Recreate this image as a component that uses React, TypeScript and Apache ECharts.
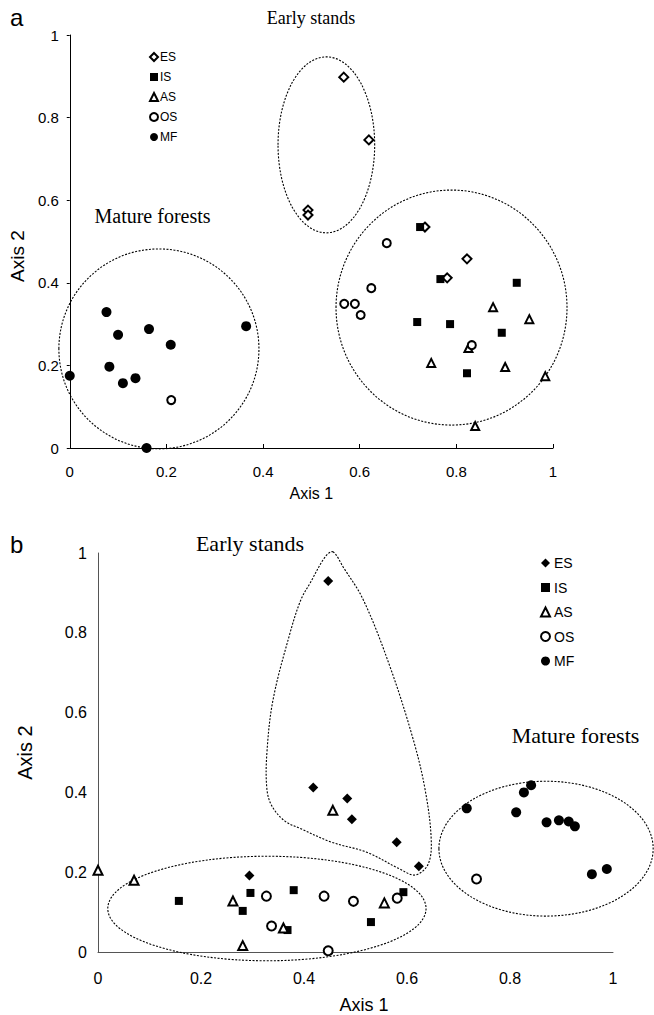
import React, { useEffect, useRef } from "react";
import * as echarts from "echarts";

// ---------- Data (panel a) ----------
const TICKS = [0, 0.2, 0.4, 0.6, 0.8, 1];
const ES_A = [[0.493, 0.576], [0.493, 0.564], [0.567, 0.898], [0.619, 0.746], [0.735, 0.535], [0.822, 0.458], [0.781, 0.412]];
const IS_A = [[0.725, 0.535], [0.767, 0.409], [0.925, 0.4], [0.719, 0.305], [0.787, 0.3], [0.894, 0.279], [0.822, 0.181]];
const AS_A = [[0.876, 0.341], [0.951, 0.312], [0.825, 0.242], [0.748, 0.206], [0.901, 0.196], [0.984, 0.174], [0.839, 0.053]];
const OS_A = [[0.656, 0.496], [0.624, 0.387], [0.568, 0.349], [0.59, 0.349], [0.602, 0.322], [0.832, 0.249], [0.21, 0.116]];
const MF_A = [[0.076, 0.329], [0.1, 0.274], [0.164, 0.288], [0.209, 0.25], [0.365, 0.295], [0.082, 0.197], [0.11, 0.157], [0.136, 0.169], [0, 0.175], [0.159, 0]];

// ---------- Data (panel b) ----------
const ES_B = [[0.447, 0.93], [0.418, 0.412], [0.484, 0.385], [0.493, 0.333], [0.58, 0.275], [0.623, 0.215], [0.294, 0.192]];
const IS_B = [[0.157, 0.128], [0.296, 0.148], [0.281, 0.103], [0.38, 0.155], [0.368, 0.055], [0.53, 0.075], [0.593, 0.15]];
const AS_B = [[0.456, 0.355], [0.556, 0.123], [0, 0.205], [0.07, 0.18], [0.262, 0.128], [0.36, 0.06], [0.281, 0.016]];
const OS_B = [[0.327, 0.14], [0.337, 0.065], [0.439, 0.14], [0.496, 0.127], [0.581, 0.135], [0.447, 0.003], [0.735, 0.183]];
const MF_B = [[0.716, 0.36], [0.827, 0.4], [0.841, 0.418], [0.812, 0.35], [0.871, 0.325], [0.895, 0.33], [0.914, 0.327], [0.926, 0.315], [0.959, 0.195], [0.988, 0.208]];

const GROUPS = ["ES", "IS", "AS", "OS", "MF"];

// Group outlines in data units: [cx, cy, rx, ry]
const OUTLINES_A = [[0.531, 0.734, 0.1, 0.213], [0.79, 0.34, 0.239, 0.2845], [0.1845, 0.24, 0.207, 0.242]];
const OUTLINES_B = [[0.87, 0.259, 0.208, 0.169], [0.328, 0.109, 0.309, 0.131]];
const EARLY_B = [[0.456, 1.003], [0.476, 0.965], [0.515, 0.883], [0.567, 0.715], [0.612, 0.533], [0.635, 0.408], [0.647, 0.283], [0.641, 0.22], [0.616, 0.193], [0.586, 0.208], [0.522, 0.25], [0.454, 0.275], [0.392, 0.31], [0.363, 0.328], [0.338, 0.365], [0.328, 0.408], [0.328, 0.5], [0.34, 0.633], [0.373, 0.8], [0.394, 0.883], [0.412, 0.925], [0.441, 0.99]];

const SANS = "'Liberation Sans', Arial, sans-serif";
const SERIF = "'Liberation Serif', 'Times New Roman', serif";

function sc(name: string, data: number[][], g: number, symbol: string, size: number, filled: boolean) {
  return {
    type: "scatter",
    name,
    xAxisIndex: g,
    yAxisIndex: g,
    data,
    symbol,
    symbolSize: size,
    clip: false,
    z: 3,
    itemStyle: filled
      ? { color: "#000", borderWidth: 0, opacity: 1 }
      : { color: "#fff", borderColor: "#000", borderWidth: 2, opacity: 1 },
    emphasis: { disabled: true },
  };
}

function axisX(g: number, o: any) {
  return {
    gridIndex: g,
    type: "value",
    min: TICKS[0],
    max: TICKS[TICKS.length - 1],
    interval: 0.2,
    name: "Axis 1",
    nameLocation: "middle",
    splitLine: { show: false },
    ...o,
  };
}

export default function App() {
  const ref = useRef<HTMLDivElement>(null);
  useEffect(() => {
    document.body.style.margin = "0";
    const chart = echarts.init(ref.current!, null, { renderer: "svg" });
    const fmt = (n: string) => n.split("_")[0];
    const option: any = {
      animation: false,
      backgroundColor: "#fff",
      grid: [
        { left: 68, top: 35, width: 485, height: 413 },
        { left: 98, top: 553, width: 515, height: 400 },
      ],
      xAxis: [
        axisX(0, {
          nameGap: 37,
          nameTextStyle: { fontFamily: SANS, fontSize: 16, color: "#000" },
          axisLine: { onZero: false, lineStyle: { color: "#000", width: 1 } },
          axisTick: { show: true, inside: true, length: 4, lineStyle: { color: "#000" } },
          axisLabel: { fontFamily: SANS, fontSize: 15, color: "#000", margin: 16 },
        }),
        axisX(1, {
          nameGap: 44,
          nameTextStyle: { fontFamily: SANS, fontSize: 18, color: "#000", padding: [0, 0, 0, 17] },
          axisLine: { onZero: false, lineStyle: { color: "#555", width: 1 } },
          axisTick: { show: false },
          axisLabel: { fontFamily: SANS, fontSize: 16, color: "#000", margin: 18 },
        }),
      ],
      yAxis: [
        {
          gridIndex: 0, type: "value", min: 0, max: 1, interval: 0.2,
          name: "Axis 2", nameLocation: "middle", nameGap: 38,
          nameTextStyle: { fontFamily: SANS, fontSize: 19, color: "#000", padding: [0, 29, 0, 0] },
          axisLine: { show: true, onZero: false, lineStyle: { color: "#000", width: 1 } },
          axisTick: { show: true, length: 3, lineStyle: { color: "#000" } },
          axisLabel: { fontFamily: SANS, fontSize: 15, color: "#000", margin: 11 },
          splitLine: { show: false },
        },
        {
          gridIndex: 1, type: "value", min: 0, max: 1, interval: 0.2,
          name: "Axis 2", nameLocation: "middle", nameGap: 63,
          nameTextStyle: { fontFamily: SANS, fontSize: 20, color: "#000" },
          axisLine: { show: true, onZero: false, lineStyle: { color: "#555", width: 1 } },
          axisTick: { show: false },
          axisLabel: { fontFamily: SANS, fontSize: 16, color: "#000", margin: 11 },
          splitLine: { show: false },
        },
      ],
      legend: [
        {
          data: GROUPS, orient: "vertical", left: 144, top: 45,
          itemWidth: 8, itemHeight: 8, itemGap: 6, selectedMode: false, formatter: fmt,
          textStyle: { fontFamily: SANS, fontSize: 12, lineHeight: 14, color: "#000", padding: [0, 0, 0, -3] },
        },
        {
          data: GROUPS.map((g) => g + "_b"), orient: "vertical", left: 535, top: 550,
          itemWidth: 9, itemHeight: 9, itemGap: 8.5, selectedMode: false, formatter: fmt,
          textStyle: { fontFamily: SANS, fontSize: 14, lineHeight: 16, color: "#000", padding: [0, 0, 0, -1] },
        },
      ],
      series: [
        sc("ES", ES_A, 0, "diamond", 9, false),
        sc("IS", IS_A, 0, "rect", 8, true),
        sc("AS", AS_A, 0, "triangle", 8, false),
        sc("OS", OS_A, 0, "circle", 8, false),
        sc("MF", MF_A, 0, "circle", 10, true),
        sc("ES_b", ES_B, 1, "diamond", 10, true),
        sc("IS_b", IS_B, 1, "rect", 8, true),
        sc("AS_b", AS_B, 1, "triangle", 9, false),
        sc("OS_b", OS_B, 1, "circle", 9, false),
        sc("MF_b", MF_B, 1, "circle", 10, true),
      ],
    };
    chart.setOption(option);

    const dash = { fill: "none", stroke: "#000", lineWidth: 1.1, lineDash: [2, 1.5] };
    const toPx = (g: number, p: number[]) => chart.convertToPixel({ gridIndex: g }, p) as number[];
    const ell = (g: number, o: number[]) => {
      const c = toPx(g, [o[0], o[1]]);
      const ex = toPx(g, [o[0] + o[2], o[1] + o[3]]);
      return {
        type: "ellipse", silent: true, z: 1,
        shape: { cx: c[0], cy: c[1], rx: Math.abs(ex[0] - c[0]), ry: Math.abs(ex[1] - c[1]) },
        style: dash,
      };
    };
    const txt = (text: string, x: number, y: number, size: number, family: string, align = "center") => ({
      type: "text", silent: true, z: 5, x, y,
      style: { text, fontSize: size, fontFamily: family, fill: "#000", textAlign: align, textVerticalAlign: "middle" },
    });
    const elements: any[] = [
      ...OUTLINES_A.map((o) => ell(0, o)),
      ...OUTLINES_B.map((o) => ell(1, o)),
      {
        type: "polygon", silent: true, z: 1,
        shape: { points: EARLY_B.map((p) => toPx(1, p)), smooth: 0.35 },
        style: dash,
      },
      txt("a", 10, 17, 24, SANS, "left"),
      txt("b", 10, 544, 24, SANS, "left"),
      txt("Early stands", 311, 18, 18, SERIF),
      txt("Mature forests", 152.5, 216, 20, SERIF),
      txt("Early stands", 250, 543, 22, SERIF),
      txt("Mature forests", 575.5, 735, 22, SERIF),
    ];
    chart.setOption({ graphic: { elements } });
    return () => chart.dispose();
  }, []);
  return <div ref={ref} style={{ width: 654, height: 1015 }} />;
}
